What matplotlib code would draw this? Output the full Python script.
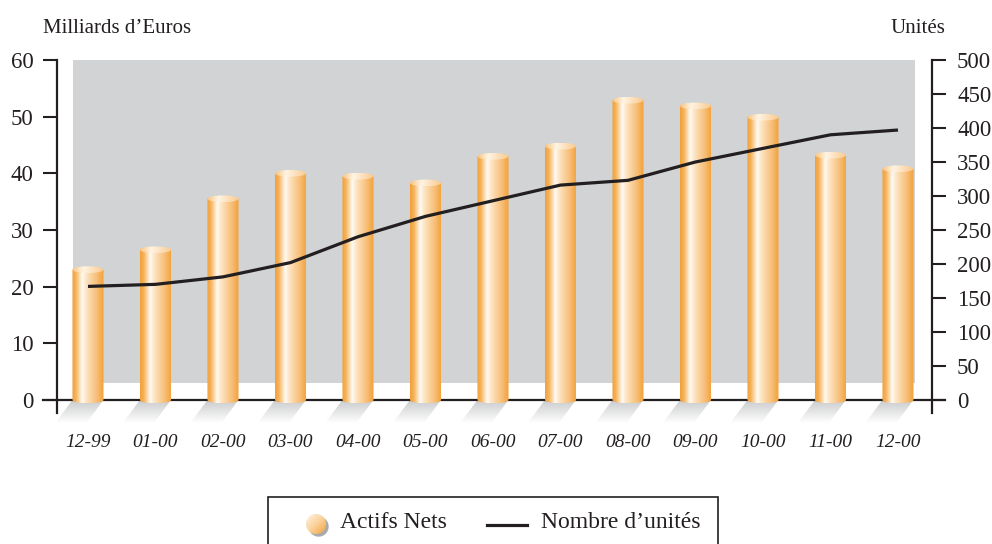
import numpy as np
import matplotlib
matplotlib.use('Agg')
import matplotlib.pyplot as plt
from matplotlib.patches import Rectangle, Ellipse, Circle, PathPatch, Polygon
from matplotlib.path import Path
from matplotlib.colors import LinearSegmentedColormap

plt.rcParams['font.family'] = ['Liberation Serif', 'DejaVu Serif']

# data
months = ['12-99', '01-00', '02-00', '03-00', '04-00', '05-00', '06-00',
          '07-00', '08-00', '09-00', '10-00', '11-00', '12-00']
actifs_nets = [23.0, 26.5, 35.5, 40.0, 39.5, 38.3, 43.0, 44.8, 52.9, 51.9, 49.9, 43.2, 40.8]
nombre_unites = [167, 170, 181, 202, 240, 270, 293, 316, 323, 350, 370, 390, 397]

INK = '#231f20'
WALL = '#d1d3d4'

body_cmap = LinearSegmentedColormap.from_list('body', [
    (0.00, '#f2a037'), (0.12, '#f6b25a'), (0.32, '#fffaf3'),
    (0.45, '#fde4c2'), (0.75, '#f8c27e'), (1.00, '#f2a037')])
top_cmap = LinearSegmentedColormap.from_list('top', [
    (0.0, '#f8c37f'), (0.35, '#fff4e4'), (1.0, '#f9c98c')])
shadow_cmap = LinearSegmentedColormap.from_list('shadow', ['#ffffff', '#cacbcd'])

fig = plt.figure(figsize=(9.92, 5.44), dpi=100)
ax = fig.add_axes([57/992, 1 - 426/544, 875/992, 366/544])
ax.patch.set_visible(False)

YMIN = -4.6
XMIN, XMAX = -0.459, 12.504
bar_w = 0.46
ell = 0.6   # half height of the cylinder ends


def gradient_in(ax, patch, cmap, extent, vertical=False, z=2):
    g = np.linspace(0, 1, 256)
    arr = g[:, None] if vertical else g[None, :]
    im = ax.imshow(arr, cmap=cmap, extent=extent, aspect='auto', origin='lower',
                   interpolation='bilinear', zorder=z)
    im.set_clip_path(patch)
    return im


# background wall
ax.add_patch(Rectangle((-0.222, 3.0), 12.474, 57.0, facecolor=WALL, edgecolor='none', zorder=0))

# zero line across both axes
ax.axhline(0, xmin=-14/875, xmax=1 + 13/875, color=INK, lw=1.6, clip_on=False, zorder=1.5)

for i, v in enumerate(actifs_nets):
    x0, x1 = i - bar_w/2, i + bar_w/2
    # floor shadow
    dx, dy = 0.25, 4.0
    sh = Polygon([(x0, 0), (x1, 0), (x1 - dx, -dy), (x0 - dx, -dy)], closed=True,
                 facecolor='none', edgecolor='none')
    ax.add_patch(sh)
    gradient_in(ax, sh, shadow_cmap, (x0 - dx, x1, -dy, 0), vertical=True, z=1)

    # cylinder body
    t = np.linspace(np.pi, 2*np.pi, 40)
    arc = np.column_stack([i + bar_w/2*np.cos(t), ell*np.sin(t)])
    verts = np.vstack([[(x0, v)], [(x0, 0)], arc, [(x1, v)], [(x0, v)]])
    body = PathPatch(Path(verts), facecolor='none', edgecolor='none')
    ax.add_patch(body)
    gradient_in(ax, body, body_cmap, (x0, x1, -ell, v), z=2)

    # cylinder top
    top = Ellipse((i, v), bar_w, 2*ell, facecolor='none', edgecolor='none')
    ax.add_patch(top)
    gradient_in(ax, top, top_cmap, (x0, x1, v - ell, v + ell), z=3)

ax.set_xlim(XMIN, XMAX)
ax.set_ylim(YMIN, 60)
ax.set_yticks(range(0, 61, 10))
ax.set_xticks(range(len(months)))
ax.set_xticklabels(months, fontstyle='italic', fontsize=14, color=INK)
ax.tick_params(axis='x', length=0, pad=6)
ax.tick_params(axis='y', direction='out', length=10, width=1.5, labelsize=16.5,
               pad=7, colors=INK)
for s in ['top', 'right', 'bottom']:
    ax.spines[s].set_visible(False)
ax.spines['left'].set_bounds(-2.29, 60)
ax.spines['left'].set_linewidth(1.6)
ax.spines['left'].set_color(INK)

# units on the right axis
ax2 = ax.twinx()
ax2.plot(range(len(months)), nombre_unites, color=INK, lw=2.3, solid_capstyle='butt', zorder=5)
ax2.set_ylim(YMIN*500/60, 500)
ax2.set_xlim(XMIN, XMAX)
ax2.set_yticks(range(0, 501, 50))
ax2.tick_params(axis='y', direction='out', length=10, width=1.5, labelsize=16.5,
                pad=8, colors=INK)
for s in ['top', 'left', 'bottom']:
    ax2.spines[s].set_visible(False)
ax2.spines['right'].set_bounds(-19.1, 500)
ax2.spines['right'].set_linewidth(1.6)
ax2.spines['right'].set_color(INK)

# axis titles
fig.text(43/992, 1 - 33/544, 'Milliards d\u2019Euros', fontsize=15, color=INK, va='baseline')
fig.text(945/992, 1 - 33/544, 'Unit\u00e9s', fontsize=15, color=INK, va='baseline', ha='right')

# legend box
fig.add_artist(Rectangle((268/992, -0.05), 450/992, 0.05 + 1 - 497/544,
                         transform=fig.transFigure, facecolor='none',
                         edgecolor=INK, lw=1.2, clip_on=False))

# legend icon: shaded ball
icon = fig.add_axes([(316 - 16)/992, 1 - (524 + 16)/544, 32/992, 32/544])
icon.axis('off')
ball_shadow = Circle((0.22, -0.22), 0.85, facecolor='#a9aaac', edgecolor='none', zorder=1)
icon.add_patch(ball_shadow)
ball = Circle((0, 0), 0.85, facecolor='none', edgecolor='none')
icon.add_patch(ball)
yy, xx = np.mgrid[0:1:64j, 0:1:64j]
ball_cmap = LinearSegmentedColormap.from_list('ball', ['#fff6ea', '#fbd29c', '#f2a037'])
icon.imshow(ball_cmap(np.clip((xx + (1 - yy)) / 2, 0, 1)), extent=(-0.85, 0.85, -0.85, 0.85),
            origin='lower', aspect='auto', interpolation='bilinear', zorder=2).set_clip_path(ball)
icon.set_xlim(-1.35, 1.35)
icon.set_ylim(-1.35, 1.35)

fig.text(340/992, 1 - 523/544, 'Actifs Nets', fontsize=17, color=INK, va='center')
fig.add_artist(plt.Line2D([487/992, 527/992], [1 - 525/544, 1 - 525/544],
                          transform=fig.transFigure, color=INK, lw=2.3))
fig.text(541/992, 1 - 523/544, 'Nombre d\u2019unit\u00e9s', fontsize=17, color=INK, va='center')

fig.savefig('out.png', dpi=100)
